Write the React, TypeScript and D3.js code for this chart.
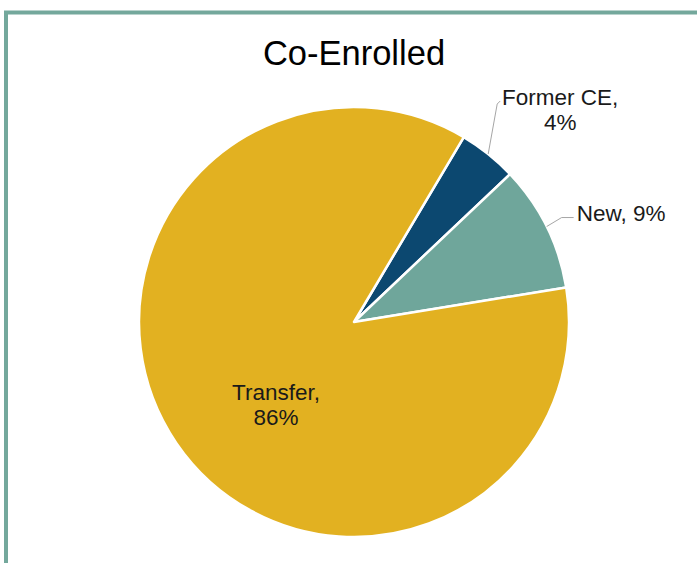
import React, { useEffect, useRef } from "react";
import * as d3 from "d3";

// Slice data, in clockwise order starting from the Former CE slice
const categories = ["Former CE", "New", "Transfer"];
const shares = [4.4, 9.5, 86.1];
const labels = ["4%", "9%", "86%"];
const colors = ["#0C4870", "#6FA69B", "#E2B121"];
const title = "Co-Enrolled";

const App = () => {
    const svgRef = useRef<SVGSVGElement>(null);

    useEffect(() => {
        const width = 697;
        const height = 563;
        const cx = 354;
        const cy = 322;
        const radius = 215;
        const font = "'Liberation Sans', Arial, sans-serif";

        const svg = d3.select(svgRef.current);
        svg.selectAll("*").remove();
        svg.attr("width", width).attr("height", height);

        // frame (top + left edges visible)
        svg.append("rect")
            .attr("x", 6)
            .attr("y", 12.5)
            .attr("width", width + 20)
            .attr("height", height + 20)
            .attr("fill", "none")
            .attr("stroke", "#74A89C")
            .attr("stroke-width", 4);

        svg.append("text")
            .attr("x", cx)
            .attr("y", 65)
            .attr("text-anchor", "middle")
            .attr("font-family", font)
            .attr("font-size", "34.5px")
            .attr("fill", "#000")
            .text(title);

        const startAngle = (30.7 * Math.PI) / 180;
        const pie = d3.pie<number>()
            .sort(null)
            .value((d) => d)
            .startAngle(startAngle)
            .endAngle(startAngle + 2 * Math.PI);
        const arcs = pie(shares);

        const arc = d3.arc<d3.PieArcDatum<number>>()
            .innerRadius(0)
            .outerRadius(radius);

        const chart = svg.append("g")
            .attr("transform", `translate(${cx},${cy})`);

        chart.selectAll("path.slice")
            .data(arcs)
            .enter()
            .append("path")
            .attr("class", "slice")
            .attr("d", arc)
            .attr("fill", (d, i) => colors[i])
            .attr("stroke", "#fff")
            .attr("stroke-width", 2.5)
            .attr("stroke-linejoin", "round");

        // point on the rim at the middle of a slice
        const rim = (d: d3.PieArcDatum<number>, r: number) => {
            const a = (d.startAngle + d.endAngle) / 2;
            return [r * Math.sin(a), -r * Math.cos(a)];
        };

        const fs = "22.5px";

        // Former CE: leader goes up, label above
        const fc = arcs[0];
        const [fx, fy] = rim(fc, radius);
        chart.append("path")
            .attr("d", d3.line()([[fx, fy], [fx + 9, fy - 50], [fx + 12, fy - 53]]))
            .attr("fill", "none")
            .attr("stroke", "#A6A6A6")
            .attr("stroke-width", 1);
        const fcText = chart.append("text")
            .attr("text-anchor", "middle")
            .attr("font-family", font)
            .attr("font-size", fs)
            .attr("fill", "#1a1a1a");
        fcText.append("tspan").attr("x", fx + 72).attr("y", fy - 49).text(categories[0] + ",");
        fcText.append("tspan").attr("x", fx + 72).attr("y", fy - 24).text(labels[0]);

        // New: leader to the right
        const nw = arcs[1];
        const [nx, ny] = rim(nw, radius);
        chart.append("path")
            .attr("d", d3.line()([[nx, ny], [nx + 15, ny - 9], [nx + 27, ny - 9]]))
            .attr("fill", "none")
            .attr("stroke", "#A6A6A6")
            .attr("stroke-width", 1);
        chart.append("text")
            .attr("x", nx + 30)
            .attr("y", ny - 6)
            .attr("font-family", font)
            .attr("font-size", fs)
            .attr("fill", "#1a1a1a")
            .text(`${categories[1]}, ${labels[1]}`);

        // Transfer: inside the slice
        const tText = chart.append("text")
            .attr("text-anchor", "middle")
            .attr("font-family", font)
            .attr("font-size", fs)
            .attr("fill", "#1a1a1a");
        tText.append("tspan").attr("x", -78).attr("y", 78).text(categories[2] + ",");
        tText.append("tspan").attr("x", -78).attr("y", 103).text(labels[2]);
    }, []);

    return (
        <div style={{ position: "absolute", left: 0, top: 0, width: 697, height: 563, overflow: "hidden", background: "#fff" }}>
            <svg ref={svgRef} style={{ display: "block" }} />
        </div>
    );
};

export default App;
